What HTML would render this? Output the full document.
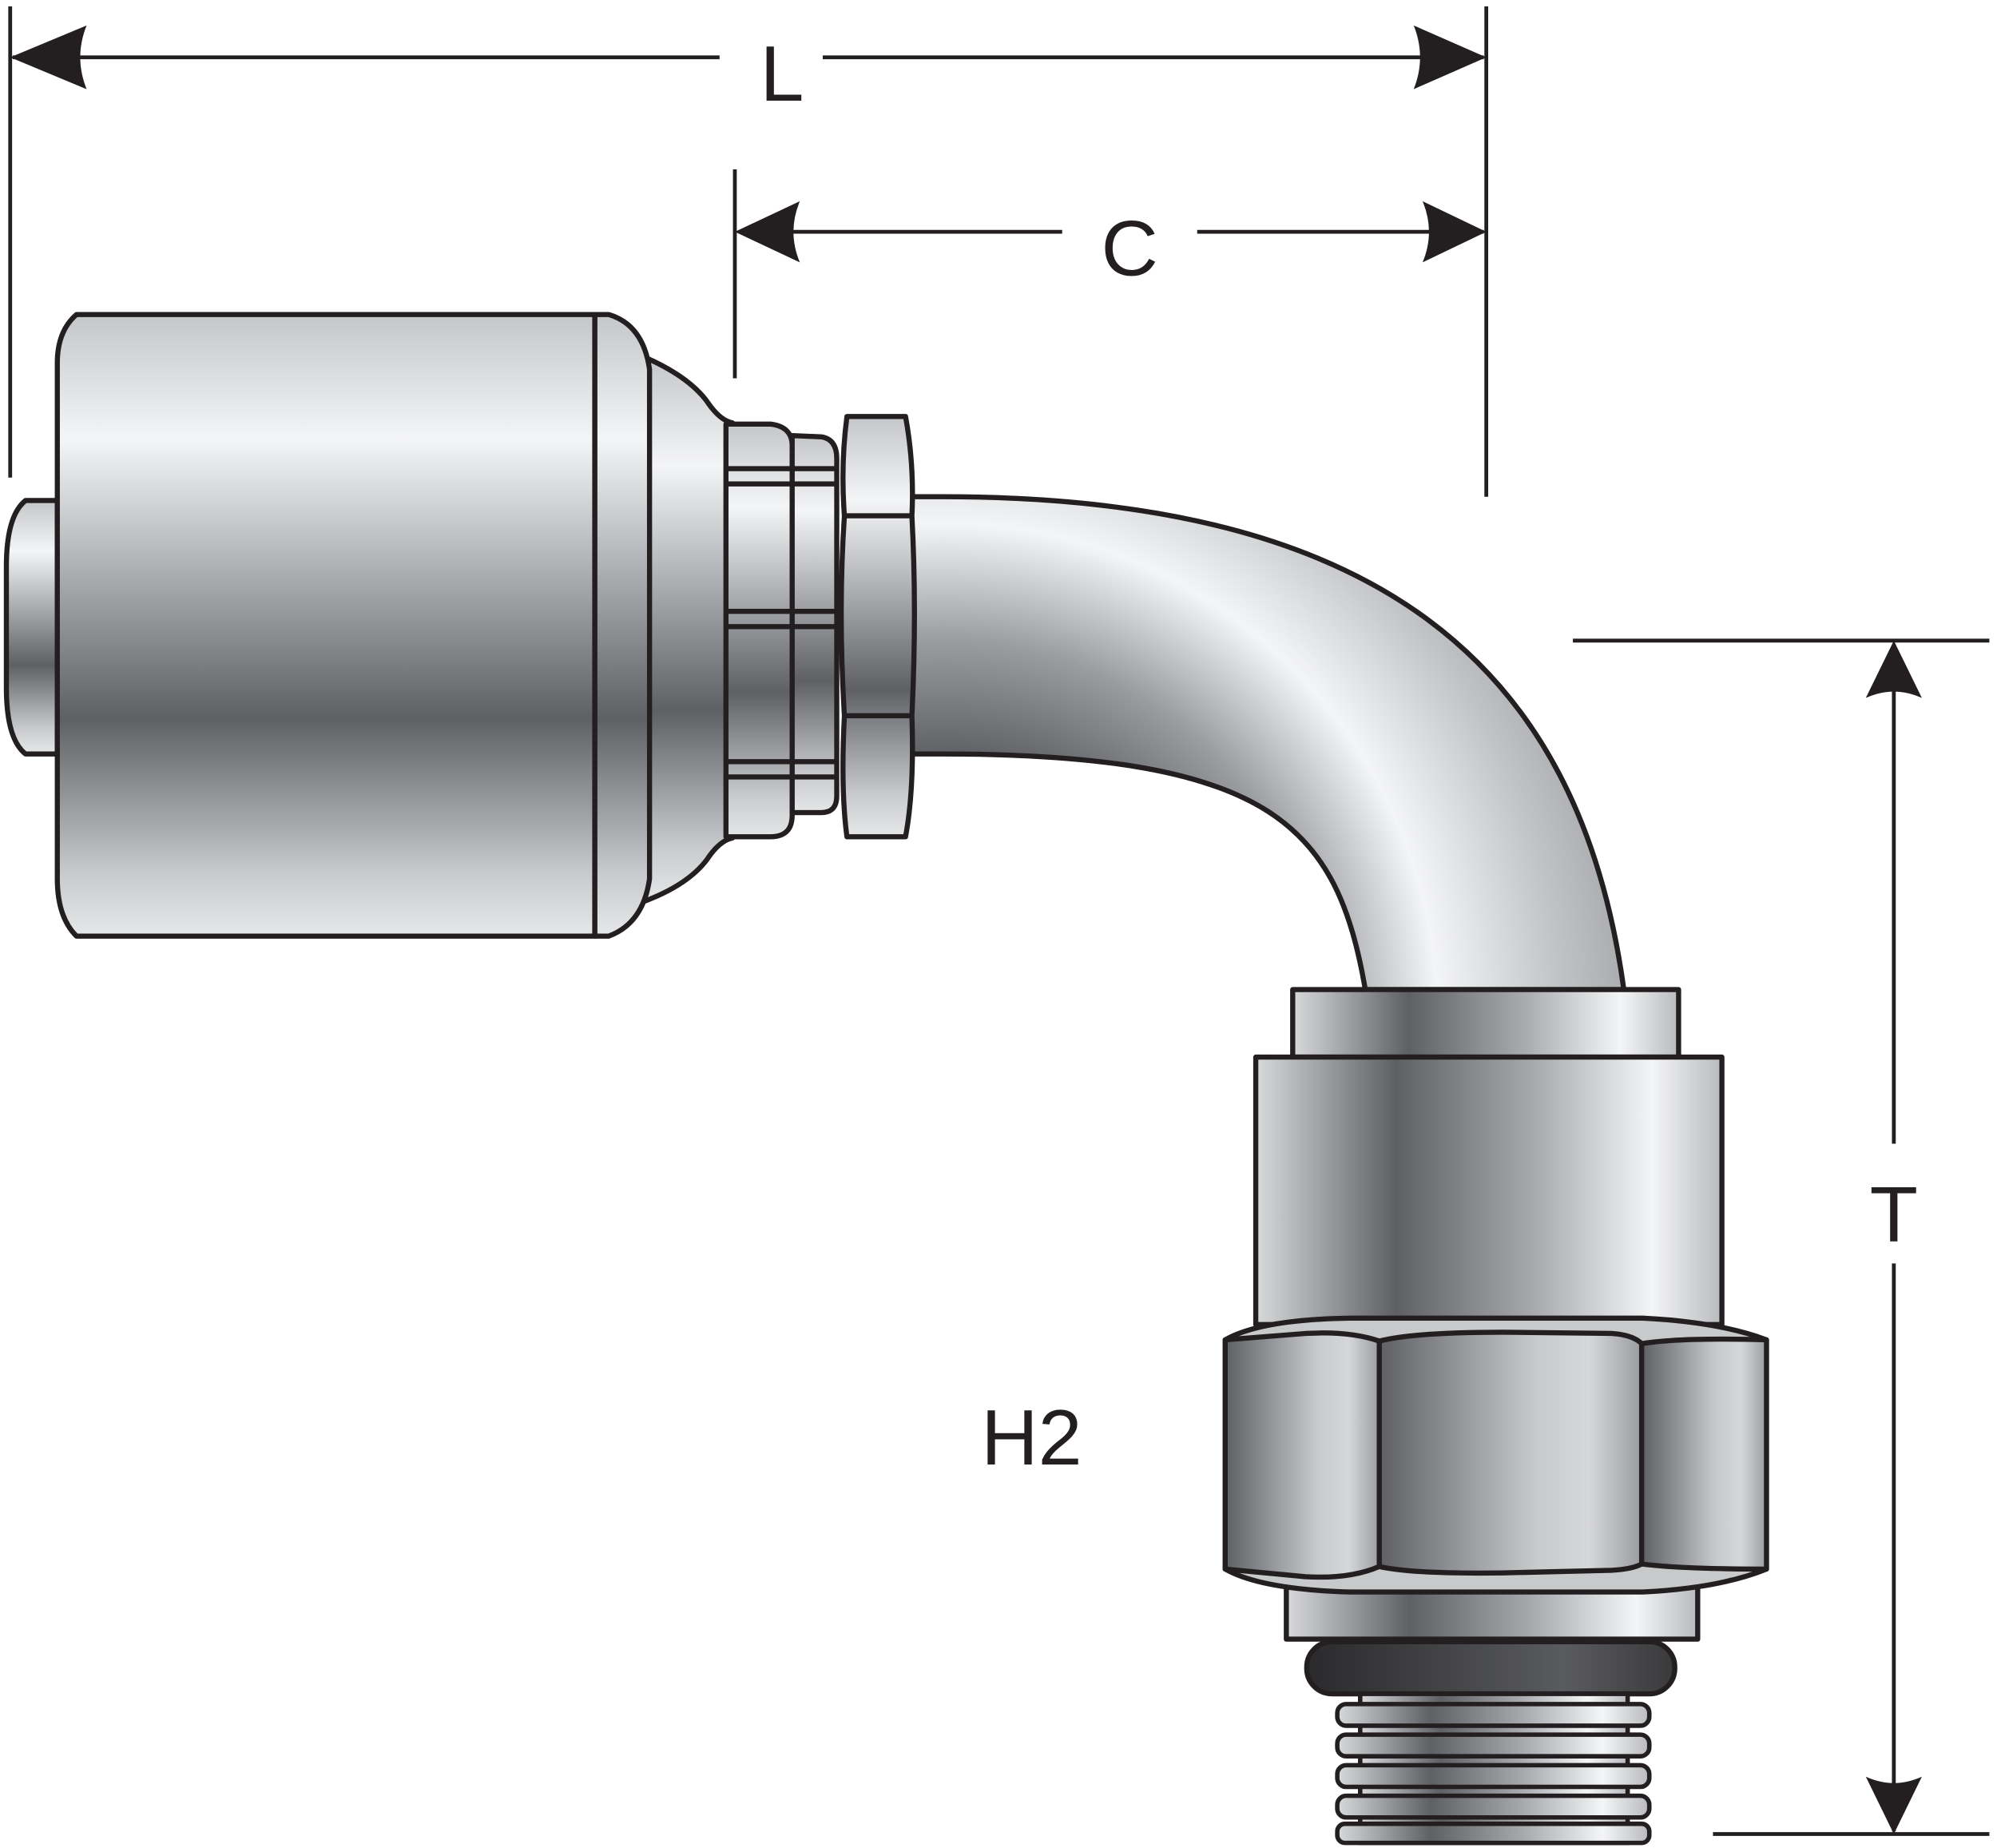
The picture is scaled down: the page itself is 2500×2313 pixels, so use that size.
<!DOCTYPE html>
<html><head><style>html,body{margin:0;padding:0;background:#fff}svg{display:block}</style></head><body>
<svg width="2500" height="2313" viewBox="0 0 1568 1451" preserveAspectRatio="none" xmlns="http://www.w3.org/2000/svg">
<defs>
<linearGradient id="gv" x1="0" y1="0" x2="0" y2="1">
<stop offset="0" stop-color="#c4c6c9"/><stop offset="0.2" stop-color="#f4f5f6"/><stop offset="0.45" stop-color="#a0a2a6"/><stop offset="0.65" stop-color="#5e6064"/><stop offset="0.9" stop-color="#c8cacd"/><stop offset="1" stop-color="#e6e7e8"/>
</linearGradient>
<linearGradient id="gh" x1="0" y1="0" x2="1" y2="0">
<stop offset="0" stop-color="#d8d9db"/><stop offset="0.3" stop-color="#5e6064"/><stop offset="0.6" stop-color="#a8aaae"/><stop offset="0.85" stop-color="#f4f5f6"/><stop offset="1" stop-color="#b8babd"/>
</linearGradient>
<linearGradient id="gn" x1="0" y1="0" x2="1" y2="0">
<stop offset="0" stop-color="#5e6064"/><stop offset="0.6" stop-color="#c8cacc"/><stop offset="0.8" stop-color="#d6d7d9"/><stop offset="1" stop-color="#9a9ca0"/>
</linearGradient>
<linearGradient id="gr" x1="0" y1="0" x2="1" y2="0">
<stop offset="0" stop-color="#2a2a2c"/><stop offset="0.7" stop-color="#5a5b5e"/><stop offset="1" stop-color="#3a3a3c"/>
</linearGradient>
<radialGradient id="gb" cx="740" cy="800" r="540" gradientUnits="userSpaceOnUse">
<stop offset="0.38" stop-color="#5e6064"/><stop offset="0.55" stop-color="#9a9ca0"/><stop offset="0.72" stop-color="#f4f5f6"/><stop offset="0.9" stop-color="#c0c2c5"/><stop offset="1" stop-color="#a8aaad"/>
</radialGradient>
</defs>
<g stroke="#231f20" stroke-width="3" fill="none">
<line x1="8" y1="5" x2="8" y2="375"/>
<line x1="1167" y1="5" x2="1167" y2="390"/>
<line x1="10" y1="45" x2="565" y2="45"/>
<line x1="646" y1="45" x2="1165" y2="45"/>
<line x1="577" y1="133" x2="577" y2="297"/>
<line x1="580" y1="182" x2="834" y2="182"/>
<line x1="940" y1="182" x2="1165" y2="182"/>
<line x1="1235" y1="503" x2="1562" y2="503"/>
<line x1="1345" y1="1440" x2="1562" y2="1440"/>
<line x1="1487" y1="506" x2="1487" y2="898"/>
<line x1="1487" y1="992" x2="1487" y2="1438"/>
</g>
<g fill="#231f20">
<path d="M8,45 L68,20 Q58,45 68,70 Z"/>
<path d="M1167,45 L1110,20 Q1120,45 1110,70 Z"/>
<path d="M577,182 L628,158 Q618,182 628,206 Z"/>
<path d="M1167,182 L1117,158 Q1127,182 1117,206 Z"/>
<path d="M1487,503 L1465,548 Q1487,538 1509,548 Z"/>
<path d="M1487,1440 L1465,1395 Q1487,1405 1509,1395 Z"/>
</g>
<g font-family="Liberation Sans, sans-serif" fill="#231f20">
<text x="614" y="79" font-size="62" text-anchor="middle">L</text>
<text x="887" y="216" font-size="62" text-anchor="middle">C</text>
<text x="1487" y="975" font-size="62" text-anchor="middle">T</text>
<text x="810" y="1150" font-size="62" text-anchor="middle">H2</text>
</g>
<g stroke="#231f20" stroke-width="4" stroke-linejoin="round">
<path d="M710,390 L740,390 C1080,390 1240,520 1275,777 L1072,777 C1050,650 1000,592 740,592 L710,592 Z" fill="url(#gb)"/>
<path d="M20,393 L45,393 L45,592 L20,592 Q5,580 5,540 L5,445 Q5,405 20,393 Z" fill="url(#gv)"/>
<path d="M505,280 Q540,295 555,315 Q565,330 575,332 L575,658 Q565,660 555,675 Q540,695 505,708 Z" fill="url(#gv)"/>
<path d="M570,333 L605,333 Q622,335 622,350 L622,640 Q622,657 605,657 L570,657 Z" fill="url(#gv)"/>
<path d="M622,342 L645,343 Q657,345 657,360 L657,625 Q657,638 645,638 L622,638 Z" fill="url(#gv)"/>
<g fill="none"><line x1="570" y1="368" x2="657" y2="368"/><line x1="570" y1="380" x2="657" y2="380"/><line x1="570" y1="480" x2="657" y2="480"/><line x1="570" y1="492" x2="657" y2="492"/><line x1="570" y1="598" x2="657" y2="598"/><line x1="570" y1="610" x2="657" y2="610"/></g>
<path d="M665,327 L711,327 Q718,365 716,405 Q720,480 716,562 Q718,620 711,657 L665,657 Q660,620 663,562 Q658,480 663,405 Q660,365 665,327 Z" fill="url(#gv)"/>
<path d="M663,405 L716,405 M663,562 L716,562" fill="none"/>
<path d="M478,247 Q505,255 510,290 L510,690 Q505,725 478,735 L467,735 L467,247 Z" fill="url(#gv)"/>
<path d="M60,247 L467,247 L467,735 L60,735 Q45,720 45,690 L45,285 Q45,260 60,247 Z" fill="url(#gv)"/>
<rect x="1015" y="777" width="303" height="53" fill="url(#gh)"/>
<rect x="986" y="830" width="366" height="210" fill="url(#gh)"/>
<rect x="1010" y="1240" width="323" height="47" fill="url(#gh)"/>
<rect x="1026" y="1289" width="289" height="41" rx="20" fill="url(#gr)"/>
</g>
<g stroke="#231f20" stroke-width="3.5">
<rect x="1068" y="1330" width="210" height="117" fill="url(#gh)"/>
<g fill="url(#gh)">
<rect x="1050" y="1338" width="245" height="17" rx="7"/>
<rect x="1050" y="1362" width="245" height="17" rx="7"/>
<rect x="1050" y="1386" width="245" height="17" rx="7"/>
<rect x="1050" y="1410" width="245" height="17" rx="7"/>
<rect x="1050" y="1432" width="245" height="15" rx="6"/>
</g>
</g>
<g stroke="#231f20" stroke-width="4" stroke-linejoin="round">
<path d="M962,1052 Q990,1036 1060,1035 L1290,1035 Q1350,1038 1387,1052 L1387,1232 Q1350,1247 1290,1250 L1060,1250 Q990,1248 962,1232 Z" fill="#c8c9cb"/>
<path d="M962,1052 L1025,1047 Q1060,1045 1083,1053 L1083,1230 Q1060,1240 1025,1238 L962,1232 Z" fill="url(#gn)"/>
<path d="M1083,1053 Q1110,1046 1180,1046 L1265,1047 Q1282,1048 1289,1055 L1289,1228 Q1282,1232 1265,1233 L1180,1235 Q1110,1236 1083,1230 Z" fill="url(#gn)"/>
<path d="M1289,1055 Q1320,1050 1387,1052 L1387,1232 Q1320,1232 1289,1228 Z" fill="url(#gn)"/>
</g>
</svg>
</body></html>
